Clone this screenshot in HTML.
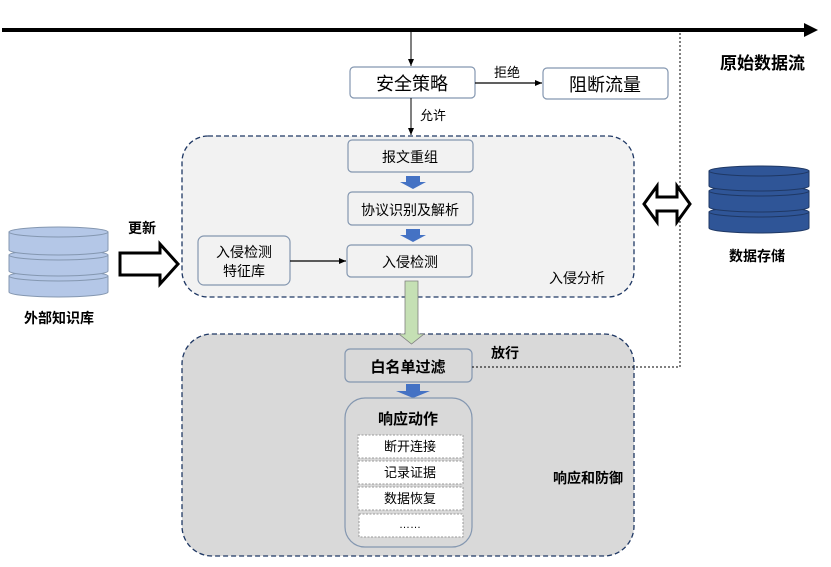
<!DOCTYPE html>
<html><head><meta charset="utf-8"><style>
html,body{margin:0;padding:0;background:#fff;}
svg text{font-family:"Liberation Sans","Noto Sans CJK SC",sans-serif;fill:#000;}
</style></head><body>
<svg width="831" height="562" viewBox="0 0 831 562" xmlns="http://www.w3.org/2000/svg">
<defs>
<marker id="ah" markerWidth="8" markerHeight="8" refX="7" refY="4" orient="auto" markerUnits="userSpaceOnUse"><path d="M0,1 L7,4 L0,7 Z" fill="#000"/></marker>
</defs>
<!-- main flow -->
<line x1="2" y1="30" x2="808" y2="30" stroke="#000" stroke-width="4"/>
<path d="M804,23 L818,30 L804,37 Z" fill="#000"/>
<text x="720" y="69" font-size="17" font-weight="bold">原始数据流</text>

<line x1="411" y1="31" x2="411" y2="66" stroke="#000" stroke-width="1" marker-end="url(#ah)"/>
<rect x="350" y="67" width="125" height="31" rx="4" fill="#fff" stroke="#8497b0" stroke-width="1.2"/>
<text x="412" y="90" font-size="18" text-anchor="middle">安全策略</text>
<line x1="475" y1="83" x2="542" y2="83" stroke="#000" stroke-width="1.2" marker-end="url(#ah)"/>
<text x="494" y="77" font-size="13">拒绝</text>
<rect x="543" y="68" width="125" height="31" rx="4" fill="#fff" stroke="#8497b0" stroke-width="1.2"/>
<text x="605" y="91" font-size="18" text-anchor="middle">阻断流量</text>
<line x1="411" y1="98" x2="411" y2="135" stroke="#000" stroke-width="1" marker-end="url(#ah)"/>
<text x="420" y="120" font-size="13">允许</text>

<!-- top container -->
<rect x="182" y="136" width="452" height="161" rx="26" fill="#f2f2f2" stroke="#1f3864" stroke-width="1.3" stroke-dasharray="5,3"/>
<rect x="348" y="140" width="125" height="32" rx="4" fill="#f2f2f2" stroke="#8497b0" stroke-width="1.2"/>
<text x="410" y="162" font-size="14" text-anchor="middle">报文重组</text>
<path d="M406,176 L420,176 L420,182 L426,182 L413,189 L400,182 L406,182 Z" fill="#4472c4"/>
<rect x="348" y="192" width="125" height="33" rx="4" fill="#f2f2f2" stroke="#8497b0" stroke-width="1.2"/>
<text x="410" y="215" font-size="14" text-anchor="middle">协议识别及解析</text>
<path d="M406,229 L420,229 L420,235 L426,235 L413,242 L400,235 L406,235 Z" fill="#4472c4"/>
<rect x="347" y="245" width="125" height="32" rx="4" fill="#f2f2f2" stroke="#8497b0" stroke-width="1.2"/>
<text x="410" y="267" font-size="14" text-anchor="middle">入侵检测</text>
<rect x="198" y="236" width="92" height="49" rx="6" fill="#f2f2f2" stroke="#8497b0" stroke-width="1.2"/>
<text x="244" y="257" font-size="14" text-anchor="middle">入侵检测</text>
<text x="244" y="276" font-size="14" text-anchor="middle">特征库</text>
<line x1="290" y1="261" x2="346" y2="261" stroke="#000" stroke-width="1.2" marker-end="url(#ah)"/>
<text x="549" y="283" font-size="14">入侵分析</text>

<!-- bottom container -->
<rect x="182" y="334" width="452" height="222" rx="30" fill="#d9d9d9" stroke="#1f3864" stroke-width="1.3" stroke-dasharray="5,3"/>
<!-- green arrow -->
<path d="M405,281 L418,281 L418,334 L424,334 L411.5,344 L399,334 L405,334 Z" fill="#c5e0b4" stroke="#7f7f7f" stroke-width="0.8"/>
<rect x="345" y="349" width="127" height="33" rx="5" fill="#d9d9d9" stroke="#8497b0" stroke-width="1.2"/>
<text x="408" y="372" font-size="15" font-weight="bold" text-anchor="middle">白名单过滤</text>
<text x="491" y="358" font-size="14" font-weight="bold">放行</text>
<path d="M472,367 L680,367 L680,31" fill="none" stroke="#000" stroke-width="1" stroke-dasharray="2,2"/>
<path d="M406,384 L420,384 L420,391 L430,391 L413,398 L396,391 L406,391 Z" fill="#4472c4"/>
<rect x="345" y="398" width="127" height="149" rx="20" fill="#d9d9d9" stroke="#8497b0" stroke-width="1.2"/>
<text x="408" y="424" font-size="15" font-weight="bold" text-anchor="middle">响应动作</text>
<g font-size="13">
<rect x="358" y="435" width="105" height="23" fill="#fff" stroke="#999" stroke-dasharray="2,1.5"/>
<text x="410" y="451" text-anchor="middle" font-size="13">断开连接</text>
<rect x="358" y="461" width="105" height="23" fill="#fff" stroke="#999" stroke-dasharray="2,1.5"/>
<text x="410" y="477" text-anchor="middle" font-size="13">记录证据</text>
<rect x="358" y="487" width="105" height="23" fill="#fff" stroke="#999" stroke-dasharray="2,1.5"/>
<text x="410" y="503" text-anchor="middle" font-size="13">数据恢复</text>
<rect x="359" y="514" width="104" height="23" fill="#fff" stroke="#999" stroke-dasharray="2,1.5"/>
<text x="410" y="528" text-anchor="middle" font-size="11">……</text>
</g>
<text x="553" y="483" font-size="14" font-weight="bold">响应和防御</text>

<!-- left DB -->
<g fill="#b4c7e7" stroke="#8497b0" stroke-width="1">
<path d="M9,276 L9,292 A49.5,5 0 0 0 108,292 L108,276 Z"/>
<ellipse cx="58.5" cy="276" rx="49.5" ry="5"/>
<path d="M9,255 L9,271 A49.5,5 0 0 0 108,271 L108,255 Z"/>
<ellipse cx="58.5" cy="255" rx="49.5" ry="5"/>
<path d="M9,232 L9,250 A49.5,5 0 0 0 108,250 L108,232 Z"/>
<ellipse cx="58.5" cy="232" rx="49.5" ry="5"/>
</g>
<text x="59" y="323" font-size="14" font-weight="bold" text-anchor="middle">外部知识库</text>
<text x="128" y="233" font-size="14" font-weight="bold">更新</text>
<path d="M120,253 L160,253 L160,244 L178,264 L160,284 L160,275 L120,275 Z" fill="#fff" stroke="#000" stroke-width="3" stroke-linejoin="miter"/>

<!-- right DB -->
<g fill="#2f5597" stroke="#1f3864" stroke-width="1">
<path d="M709,212 L709,228 A50,5 0 0 0 809,228 L809,212 Z"/>
<ellipse cx="759" cy="212" rx="50" ry="5"/>
<path d="M709,191 L709,207 A50,5 0 0 0 809,207 L809,191 Z"/>
<ellipse cx="759" cy="191" rx="50" ry="5"/>
<path d="M709,171 L709,186 A50,5 0 0 0 809,186 L809,171 Z"/>
<ellipse cx="759" cy="171" rx="50" ry="5"/>
</g>
<text x="757" y="261" font-size="14" font-weight="bold" text-anchor="middle">数据存储</text>
<path d="M644,204 L657,186 L657,197 L677,197 L677,186 L690,204 L677,222 L677,211 L657,211 L657,222 Z" fill="#fff" stroke="#000" stroke-width="3"/>
</svg>
</body></html>
